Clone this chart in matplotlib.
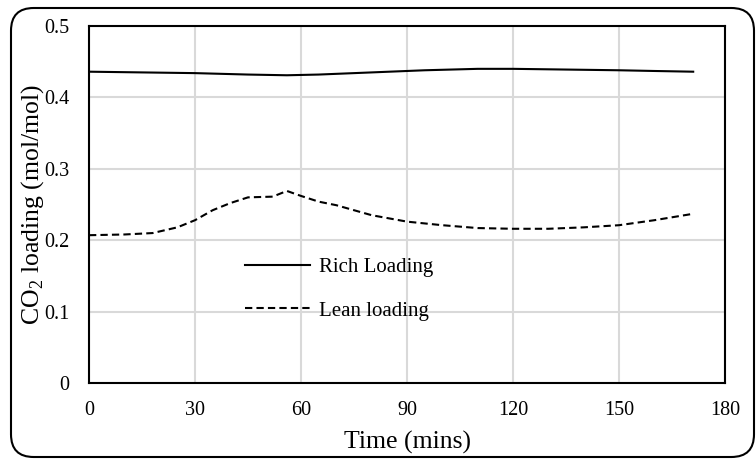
#!/usr/bin/env python3
import matplotlib
matplotlib.use("Agg")
import matplotlib.pyplot as plt
from matplotlib.patches import FancyBboxPatch

plt.rcParams['font.family'] = ['Liberation Serif', 'DejaVu Serif']
plt.rcParams['mathtext.fontset'] = 'custom'
plt.rcParams['mathtext.rm'] = 'Liberation Serif'

# values
rich_t = [0, 15, 30, 45, 56, 65, 80, 95, 110, 120, 135, 150, 160, 171]
rich = [0.436, 0.435, 0.434, 0.432, 0.431, 0.432, 0.435, 0.438, 0.440,
        0.440, 0.439, 0.438, 0.437, 0.436]

lean_t = [0, 10, 18, 25, 30, 35, 40, 45, 52, 56, 60, 65, 70, 75, 80, 90,
          100, 110, 120, 130, 140, 150, 160, 171]
lean = [0.207, 0.208, 0.210, 0.218, 0.228, 0.242, 0.252, 0.260, 0.261, 0.269,
        0.262, 0.254, 0.249, 0.242, 0.235, 0.226, 0.221, 0.217, 0.216, 0.216,
        0.218, 0.221, 0.228, 0.237]

xticks = [0, 30, 60, 90, 120, 150, 180]
yticks = [0, 0.1, 0.2, 0.3, 0.4, 0.5]
ytick_labels = ['0', '0.1', '0.2', '0.3', '0.4', '0.5']

fig = plt.figure(figsize=(7.56, 4.59), dpi=100)
ax = fig.add_axes([89 / 756, 1 - 383 / 459, 636 / 756, 357 / 459])

ax.plot(rich_t, rich, color='black', lw=1.5, label='Rich Loading')
ax.plot(lean_t, lean, color='black', lw=1.5, dashes=(3.5, 2), label='Lean loading')

ax.set_xlim(0, 180)
ax.set_ylim(0, 0.5)
ax.set_xticks(xticks)
ax.set_yticks(yticks)
ax.set_yticklabels(ytick_labels)
ax.tick_params(length=0, labelsize=14.5)
ax.tick_params(axis='x', pad=13)
ax.tick_params(axis='y', pad=14)
ax.grid(True, color='#d9d9d9', lw=1.5)
ax.set_axisbelow(True)
for s in ax.spines.values():
    s.set_color('black')
    s.set_linewidth(1.5)

ax.set_xlabel('Time (mins)', fontsize=18.5, labelpad=8)
ax.set_ylabel(r'CO$_\mathregular{2}$ loading (mol/mol)', fontsize=18.5, labelpad=-1)

ax.legend(loc='center left', bbox_to_anchor=((245 - 89) / 636, (383 - 289) / 357),
          frameon=False, fontsize=15, handlelength=3.1, labelspacing=1.15,
          borderpad=0, borderaxespad=0, handletextpad=0.45)

# rounded outer border
border = FancyBboxPatch((11 / 756, 2 / 459), 743 / 756, 449 / 459,
                        boxstyle='round,pad=0,rounding_size=0.03',
                        mutation_aspect=756 / 459, transform=fig.transFigure,
                        fill=False, edgecolor='black', lw=1.5)
fig.patches.append(border)

fig.savefig('out.png', dpi=100)
